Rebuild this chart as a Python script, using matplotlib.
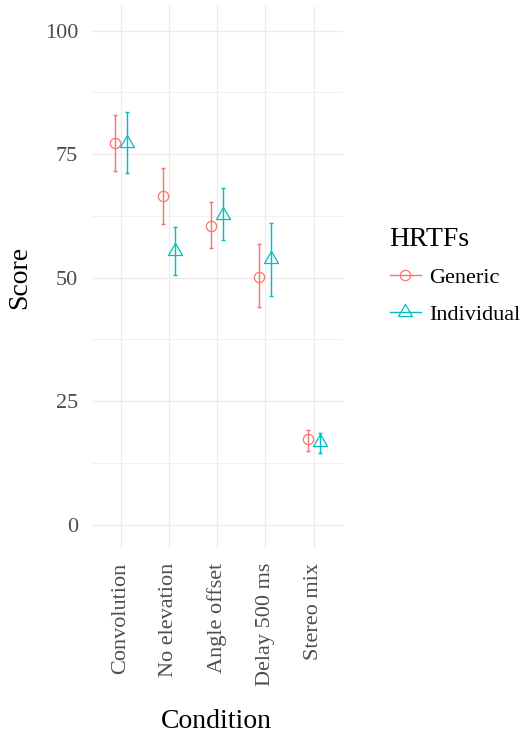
import matplotlib
matplotlib.use('Agg')
import matplotlib.pyplot as plt
import numpy as np
from matplotlib.path import Path
from matplotlib.lines import Line2D

conditions = ["Convolution", "No elevation", "Angle offset", "Delay 500 ms", "Stereo mix"]
groups = ["Generic", "Individual"]
generic_mean = [77.2, 66.6, 60.5, 50.1, 17.3]
generic_low = [71.7, 60.9, 56.1, 44.1, 14.9]
generic_high = [83.0, 72.2, 65.4, 56.8, 19.2]
individual_mean = [77.2, 55.4, 62.7, 53.7, 16.8]
individual_low = [71.1, 50.6, 57.6, 46.2, 14.6]
individual_high = [83.5, 60.3, 68.2, 61.1, 18.6]
colors = ["#F8766D", "#00BFC4"]
y_ticks = [0, 25, 50, 75, 100]

plt.rcParams['font.family'] = ['Liberation Serif', 'DejaVu Serif']

fig = plt.figure(figsize=(5.23, 7.35), dpi=100)
W, H = 523, 735
left, right = 91.75, 342.65
top, bottom = 6.0, 549.4
ax = fig.add_axes([left / W, 1 - bottom / H, (right - left) / W, (bottom - top) / H])

tri = Path([(0, 1), (-0.866, -0.5), (0.866, -0.5), (0, 1)],
           [Path.MOVETO, Path.LINETO, Path.LINETO, Path.CLOSEPOLY])

x = np.arange(1, len(conditions) + 1)
dodge = 0.125
series = [
    (generic_mean, generic_low, generic_high, 'o', 7.4),
    (individual_mean, individual_low, individual_high, tri, 11.6),
]
for i, (m, lo, hi, mk, ms) in enumerate(series):
    xs = x + (-dodge if i == 0 else dodge)
    m = np.array(m); lo = np.array(lo); hi = np.array(hi)
    ax.errorbar(xs, m, yerr=[m - lo, hi - m], fmt='none', ecolor=colors[i],
                elinewidth=1.05, capsize=1.6, capthick=1.05, zorder=3)
    ax.plot(xs, m, linestyle='none', marker=mk, markersize=ms, markerfacecolor='none',
            markeredgecolor=colors[i], markeredgewidth=0.9, zorder=4)

ax.set_xlim(0.4, 5.6)
ax.set_ylim(-5, 105)
ax.set_xticks(x)
ax.set_xticklabels(conditions, rotation=90, fontsize=16, color='#4D4D4D')
ax.set_yticks(y_ticks)
ax.set_yticklabels([str(v) for v in y_ticks], fontsize=16, color='#4D4D4D')
ax.set_yticks([12.5, 37.5, 62.5, 87.5], minor=True)
ax.tick_params(axis='both', which='both', length=0)
ax.tick_params(axis='y', pad=9.8)
ax.tick_params(axis='x', pad=9.6)
ax.grid(True, which='major', color='#EBEBEB', linewidth=0.8)
ax.grid(True, which='minor', axis='y', color='#EBEBEB', linewidth=0.5)
ax.set_axisbelow(True)
for s in ax.spines.values():
    s.set_visible(False)

fig.text(216.5 / W, 1 - 721 / H, "Condition", fontsize=20, ha='center', va='center')
fig.text(20 / W, 1 - 277.7 / H, "Score", fontsize=20, ha='center', va='center', rotation=90)

handles = [
    Line2D([], [], color=colors[0], linewidth=1.0, marker='o', markersize=7.4,
           markerfacecolor='none', markeredgewidth=0.9),
    Line2D([], [], color=colors[1], linewidth=1.0, marker=tri, markersize=11.6,
           markerfacecolor='none', markeredgewidth=0.9),
]
leg = fig.legend(handles, groups, loc='upper left', bbox_to_anchor=(389.5 / W, 1 - 227 / H),
                 frameon=False, fontsize=16, title="HRTFs", title_fontsize=20,
                 handlelength=1.4, handletextpad=0.37, labelspacing=0.75,
                 borderpad=0, borderaxespad=0, alignment='left')
leg._legend_box.sep = 11

fig.savefig('out.png', dpi=100)
